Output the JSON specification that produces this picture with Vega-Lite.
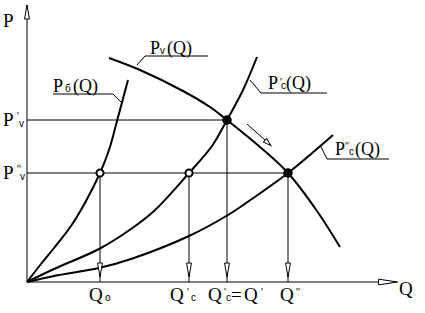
{
  "$schema": "https://vega.github.io/schema/vega-lite/v6.json",
  "width": 425,
  "height": 313,
  "autosize": {"type": "fit", "contains": "padding"},
  "padding": 0,
  "background": "white",
  "config": {"view": {"stroke": null}},
  "datasets": {
    "curves": [
      {"c": "Pb", "q": 0, "p": 0}, {"c": "Pb", "q": 14, "p": 18}, {"c": "Pb", "q": 27, "p": 34}, {"c": "Pb", "q": 44, "p": 56}, {"c": "Pb", "q": 59, "p": 81}, {"c": "Pb", "q": 73, "p": 109}, {"c": "Pb", "q": 82, "p": 132}, {"c": "Pb", "q": 90, "p": 161}, {"c": "Pb", "q": 101, "p": 202},
      {"c": "Pc1", "q": 0, "p": 0}, {"c": "Pc1", "q": 27, "p": 13}, {"c": "Pc1", "q": 72, "p": 33}, {"c": "Pc1", "q": 104, "p": 53}, {"c": "Pc1", "q": 127, "p": 71}, {"c": "Pc1", "q": 162, "p": 109}, {"c": "Pc1", "q": 185, "p": 136}, {"c": "Pc1", "q": 200, "p": 162}, {"c": "Pc1", "q": 216, "p": 192}, {"c": "Pc1", "q": 230, "p": 225},
      {"c": "Pc2", "q": 0, "p": 0}, {"c": "Pc2", "q": 27, "p": 6}, {"c": "Pc2", "q": 72, "p": 14}, {"c": "Pc2", "q": 104, "p": 23}, {"c": "Pc2", "q": 162, "p": 46}, {"c": "Pc2", "q": 201, "p": 67}, {"c": "Pc2", "q": 222, "p": 81}, {"c": "Pc2", "q": 261, "p": 109}, {"c": "Pc2", "q": 306, "p": 147},
      {"c": "Pv", "q": 82, "p": 224}, {"c": "Pv", "q": 113, "p": 212}, {"c": "Pv", "q": 156, "p": 191}, {"c": "Pv", "q": 183, "p": 175}, {"c": "Pv", "q": 200, "p": 162}, {"c": "Pv", "q": 233, "p": 135}, {"c": "Pv", "q": 261, "p": 109}, {"c": "Pv", "q": 290, "p": 71}, {"c": "Pv", "q": 313, "p": 35}
    ],
    "segs": [
      {"q": 0, "p": 0, "q2": 0, "p2": 277},
      {"q": 0, "p": 0, "q2": 370, "p2": 0},
      {"q": 0, "p": 162, "q2": 200, "p2": 162},
      {"q": 0, "p": 109, "q2": 261, "p2": 109},
      {"q": 73, "p": 109, "q2": 73, "p2": 0},
      {"q": 162, "p": 109, "q2": 162, "p2": 0},
      {"q": 200, "p": 162, "q2": 200, "p2": 0},
      {"q": 261, "p": 109, "q2": 261, "p2": 0},
      {"q": 26, "p": 188, "q2": 86, "p2": 188},
      {"q": 86, "p": 188, "q2": 95, "p2": 179},
      {"q": 118, "p": 226, "q2": 181, "p2": 226},
      {"q": 118, "p": 226, "q2": 110, "p2": 217},
      {"q": 223, "p": 202, "q2": 234, "p2": 189},
      {"q": 234, "p": 189, "q2": 300, "p2": 189},
      {"q": 293, "p": 137, "q2": 300, "p2": 123},
      {"q": 300, "p": 123, "q2": 362, "p2": 123},
      {"q": 220, "p": 158, "q2": 238, "p2": 142}
    ],
    "dots": [{"q": 200, "p": 162}, {"q": 261, "p": 109}],
    "rings": [{"q": 73, "p": 109}, {"q": 162, "p": 109}],
    "downheads": [{"q": 73, "p": 12}, {"q": 162, "p": 12}, {"q": 200, "p": 12}, {"q": 261, "p": 12}],
    "upheads": [{"q": 0, "p": 270}],
    "rightheads": [{"q": 361, "p": 0}],
    "dirheads": [{"q": 241, "p": 139}],
    "big": [
      {"q": -24, "p": 255, "t": "P"},
      {"q": 372, "p": -13, "t": "Q"},
      {"q": -24, "p": 156, "t": "P"},
      {"q": -24, "p": 103, "t": "P"},
      {"q": 62, "p": -19, "t": "Q"},
      {"q": 143, "p": -19, "t": "Q"},
      {"q": 181, "p": -19, "t": "Q"},
      {"q": 204, "p": -19, "t": "="},
      {"q": 217, "p": -19, "t": "Q"},
      {"q": 253, "p": -19, "t": "Q"}
    ],
    "mid": [
      {"q": 26, "p": 190, "t": "P"}, {"q": 46, "p": 190, "t": "(Q)"},
      {"q": 123, "p": 228, "t": "P"}, {"q": 140, "p": 228, "t": "(Q)"},
      {"q": 241, "p": 193, "t": "P"}, {"q": 259, "p": 193, "t": "(Q)"},
      {"q": 308, "p": 127, "t": "P"}, {"q": 328, "p": 127, "t": "(Q)"}
    ],
    "small": [
      {"q": 38, "p": 190, "t": "б"},
      {"q": 133, "p": 228, "t": "v"},
      {"q": 253, "p": 196, "t": "'"}, {"q": 254, "p": 193, "t": "c"},
      {"q": 318, "p": 132, "t": "''"}, {"q": 322, "p": 127, "t": "c"},
      {"q": -10, "p": 162, "t": "'"}, {"q": -8, "p": 155, "t": "v"},
      {"q": -10, "p": 109, "t": "''"}, {"q": -7, "p": 102, "t": "v"},
      {"q": 78, "p": -19, "t": "o"},
      {"q": 160, "p": -14, "t": "'"}, {"q": 164, "p": -19, "t": "c"},
      {"q": 197, "p": -14, "t": "'"}, {"q": 199, "p": -19, "t": "c"},
      {"q": 234, "p": -14, "t": "'"},
      {"q": 269, "p": -14, "t": "''"}
    ]
  },
  "encoding": {
    "x": {"field": "q", "type": "quantitative", "scale": {"domain": [-27, 398], "nice": false, "zero": false}, "axis": null},
    "y": {"field": "p", "type": "quantitative", "scale": {"domain": [-31, 282], "nice": false, "zero": false}, "axis": null}
  },
  "layer": [
    {"data": {"name": "segs"}, "mark": {"type": "rule", "color": "black", "strokeWidth": 1}, "encoding": {"x2": {"field": "q2"}, "y2": {"field": "p2"}}},
    {"data": {"name": "curves"}, "mark": {"type": "line", "color": "black", "strokeWidth": 2, "interpolate": "catmull-rom"}, "encoding": {"detail": {"field": "c"}}},
    {"data": {"name": "downheads"}, "mark": {"type": "point", "shape": "M0,1L-0.35,-1L0.35,-1Z", "size": 196, "filled": true, "fill": "white", "stroke": "black", "strokeWidth": 1, "opacity": 1}},
    {"data": {"name": "upheads"}, "mark": {"type": "point", "shape": "M0,-1L-0.35,1L0.35,1Z", "size": 196, "filled": true, "fill": "white", "stroke": "black", "strokeWidth": 1, "opacity": 1}},
    {"data": {"name": "rightheads"}, "mark": {"type": "point", "shape": "M1,0L-1,-0.3L-1,0.3Z", "size": 361, "filled": true, "fill": "white", "stroke": "black", "strokeWidth": 1, "opacity": 1}},
    {"data": {"name": "dirheads"}, "mark": {"type": "point", "shape": "M1,0L-1,-0.6L-1,0.6Z", "size": 64, "angle": 42, "filled": true, "fill": "white", "stroke": "black", "strokeWidth": 1, "opacity": 1}},
    {"data": {"name": "rings"}, "mark": {"type": "point", "shape": "circle", "size": 50, "filled": true, "fill": "white", "stroke": "black", "strokeWidth": 2, "opacity": 1}},
    {"data": {"name": "dots"}, "mark": {"type": "point", "shape": "circle", "size": 90, "filled": true, "color": "black", "opacity": 1}},
    {"data": {"name": "big"}, "mark": {"type": "text", "align": "left", "baseline": "alphabetic", "font": "Liberation Serif", "fontSize": 19, "color": "black"}, "encoding": {"text": {"field": "t"}}},
    {"data": {"name": "mid"}, "mark": {"type": "text", "align": "left", "baseline": "alphabetic", "font": "Liberation Serif", "fontSize": 18, "color": "black"}, "encoding": {"text": {"field": "t"}}},
    {"data": {"name": "small"}, "mark": {"type": "text", "align": "left", "baseline": "alphabetic", "font": "Liberation Sans", "fontSize": 10, "color": "black"}, "encoding": {"text": {"field": "t"}}}
  ]
}
